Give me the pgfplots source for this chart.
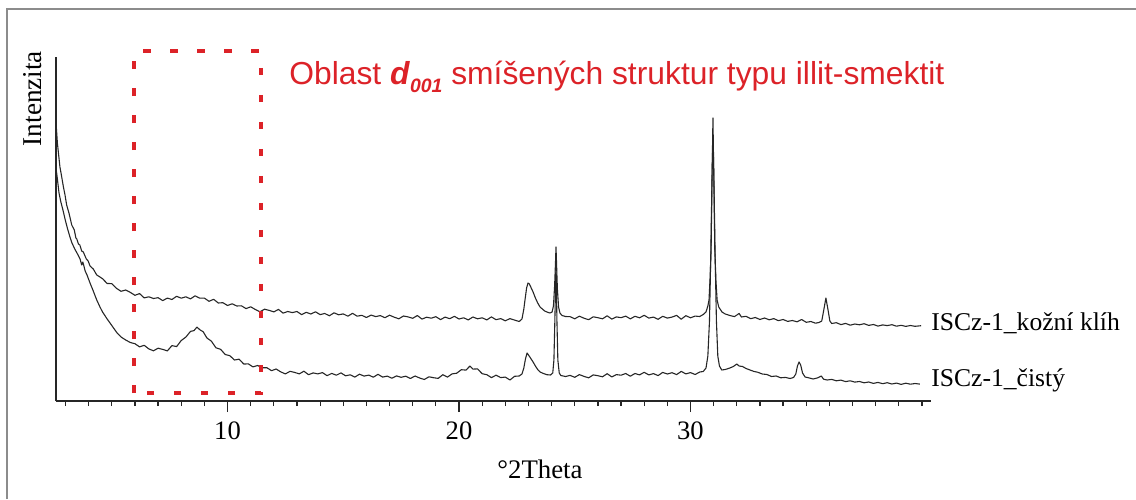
\documentclass[border=0pt]{standalone}
\usepackage{pgfplots}
\pgfplotsset{compat=1.18}
\usepackage{fontspec}
\setmainfont{Liberation Serif}
\newfontfamily\arial{Liberation Sans}
\definecolor{annred}{RGB}{220,34,40}

\begin{document}
\begin{tikzpicture}
  % picture frame: 1136 x 499 px at 0.5pt per px
  \useasboundingbox (0,0) rectangle (568pt,249.5pt);
  \draw[black!45,line width=0.7pt] (3.5pt,0) -- (3.5pt,245pt) -- (568pt,245pt);

  \begin{axis}[
    at={(28pt,49pt)},anchor=south west,
    scale only axis,width=437.5pt,height=172pt,
    xmin=2.59,xmax=40.39,ymin=0,ymax=344,
    axis lines=left,
    axis line style={-,line width=0.6pt,black!85},
    ytick=\empty,
    xtick={10,20,30},
    minor xtick={3,4,...,40},
    tick align=outside,
    major tick length=5.5pt,minor tick length=2.6pt,
    tick style={black!85,line width=0.6pt},
    /pgf/number format/assume math mode=true,
    xticklabel style={font=\fontsize{13.3}{14}\selectfont,yshift=-1.2pt},
    clip=false,
  ]
    % ISCz-1_kozni klih
    \addplot[black!85,line width=0.55pt,line join=round,mark=none] coordinates {
      (2.59,279)(2.65,258)(2.70,247)(2.76,234)(2.83,225)(2.91,214)(2.98,206)(3.05,196)
      (3.15,188)(3.27,176)(3.38,171)(3.45,163)(3.49,162)(3.56,157)(3.62,156)(3.70,150)
      (3.77,149)(3.90,142)(3.98,140)(4.06,135)(4.20,132)(4.35,126)(4.49,124)
      (4.6,122.3)(4.8,117.5)(5.0,117.4)(5.2,112.7)(5.4,109.7)(5.6,111.0)(5.8,108.6)(6.0,105.7)
      (6.2,107.4)(6.4,103.1)(6.6,104.2)(6.8,102.5)(7.0,103.3)(7.2,100.4)(7.4,102.9)(7.6,101.5)
      (7.8,104.7)(8.0,102.8)(8.2,104.2)(8.4,102.1)(8.6,105.2)(8.8,102.8)(9.0,102.9)(9.2,99.7)
      (9.4,101.7)(9.6,98.0)(9.8,98.3)(10.0,95.5)(10.2,97.2)(10.4,95.0)(10.6,95.2)(10.8,92.4)
      (11.0,94.2)(11.2,91.5)(11.4,89.2)(11.6,91.8)(11.8,90.6)(12.0,89.1)(12.2,91.6)(12.4,87.9)
      (12.6,89.5)(12.8,88.4)(13.0,89.5)(13.2,86.4)(13.4,88.7)(13.6,87.0)(13.8,89.2)(14.0,86.4)
      (14.2,87.5)(14.4,85.2)(14.6,88.2)(14.8,86.2)(15.0,87.1)(15.2,84.8)(15.4,87.7)(15.6,84.8)
      (15.8,85.7)(16.0,83.5)(16.2,85.9)(16.4,84.4)(16.6,85.4)(16.8,83.3)(17.0,85.8)(17.2,83.8)
      (17.4,82.2)(17.6,85.0)(17.8,84.1)(18.0,82.7)(18.2,85.5)(18.4,81.9)(18.6,83.8)(18.8,82.8)
      (19.0,84.3)(19.2,81.4)(19.4,83.9)(19.6,82.3)(19.8,84.7)(20.0,82.0)(20.2,83.2)(20.4,81.1)
      (20.6,84.0)(20.8,82.2)(21.0,83.2)(21.2,81.1)(21.4,84.1)(21.6,81.3)(21.8,82.4)(22.0,80.2)
      (22.2,82.4)(22.4,80.9)(22.6,79.5)(22.72,82)(22.80,92)(22.85,101)(22.92,113)(22.98,118)
      (23.04,117)(23.10,114)(23.20,109)(23.30,103)(23.40,98)(23.50,94)(23.60,92)(23.70,90)
      (23.80,89)(23.93,88)(24.02,89)(24.08,95)(24.13,115)(24.17,140)(24.19,154)(24.21,140)
      (24.25,112)(24.30,94)(24.36,88)(24.45,85.5)(24.6,84.5)(24.8,84.3)(25.0,82.2)(25.2,84.8)
      (25.4,82.8)(25.6,81.3)(25.8,84.2)(26.0,83.3)(26.2,82.2)(26.4,85.2)(26.6,81.9)(26.8,84.1)
      (27.0,83.3)(27.2,84.9)(27.4,82.1)(27.6,84.7)(27.8,83.2)(28.0,85.7)(28.2,82.9)(28.4,83.9)
      (28.6,81.7)(28.8,84.7)(29.0,82.9)(29.2,83.9)(29.4,85.6)(29.6,81.8)(29.8,85.3)(30.0,83.2)
      (30.2,84.9)(30.4,84.5)(30.55,86.5)(30.67,89)(30.75,95)(30.80,101)(30.85,125)(30.89,151)
      (30.93,220)(30.97,283)(31.01,220)(31.05,151)(31.10,120)(31.15,101)(31.22,94)(31.36,89)
      (31.5,87)(31.7,85.5)(31.9,84.4)(32.1,87.5)(32.2,84)(32.4,84.7)(32.6,82.3)(32.8,83.5)
      (33.0,81.5)(33.2,83)(33.4,81.2)(33.6,82.4)(33.8,80.3)(34.0,81.5)(34.2,79.6)(34.4,80.5)
      (34.6,79.2)(34.8,81.5)(35.0,78.7)(35.2,79.5)(35.4,77.8)(35.55,78.5)(35.67,80)(35.75,90)
      (35.85,103)(35.95,90)(36.02,80)(36.1,77.5)(36.3,78.3)(36.5,76.4)(36.7,77.6)(36.9,75.8)
      (37.1,77.0)(37.3,76.2)(37.5,77.3)(37.7,75.6)(37.9,76.5)(38.1,74.9)(38.3,76.1)(38.5,75.4)
      (38.7,76.3)(38.9,74.8)(39.1,75.7)(39.3,74.6)(39.5,75.5)(39.7,74.7)(39.96,75.3)
    };
    % ISCz-1_cisty
    \addplot[black!85,line width=0.55pt,line join=round,mark=none] coordinates {
      (2.59,233)(2.65,222)(2.72,208)(2.80,199)(2.89,191)(2.98,182)(3.08,173)(3.18,165)
      (3.28,158)(3.40,152)(3.52,147)(3.63,142)(3.70,136)(3.75,139)(3.85,130)(3.93,126)
      (4.06,118)(4.20,110)(4.35,101)(4.49,94)(4.6,89)(4.8,82)(5.0,75.5)(5.23,68)
      (5.4,64)(5.6,61)(5.8,58.5)(6.0,57.3)(6.2,54.1)(6.4,55.7)(6.6,52.1)(6.8,50.2)
      (7.0,52.8)(7.2,51.6)(7.4,50.1)(7.6,55.4)(7.8,54.4)(8.0,60.5)(8.2,63.9)(8.4,69.6)
      (8.55,70.4)(8.68,73.9)(8.8,71.3)(8.95,69.2)(9.11,63)(9.3,59.9)(9.5,53.2)(9.7,51.7)
      (9.9,46.5)(10.1,45.3)(10.3,41.0)(10.5,41.8)(10.7,37.0)(10.9,37.1)(11.1,34.1)(11.3,35.5)
      (11.5,33.2)(11.7,33.3)(11.9,30.3)(12.1,32.0)(12.3,29.1)(12.5,27.1)(12.7,29.7)(12.9,28.6)
      (13.1,27.1)(13.3,29.8)(13.5,26.3)(13.7,28.1)(13.9,27.1)(14.1,28.4)(14.3,25.3)(14.5,27.6)
      (14.7,25.8)(14.9,28.1)(15.1,25.2)(15.3,26.2)(15.5,23.9)(15.7,26.8)(15.9,24.9)(16.1,25.9)
      (16.3,23.8)(16.5,26.7)(16.7,23.9)(16.9,24.9)(17.1,22.8)(17.3,25.1)(17.5,23.7)(17.7,24.8)
      (17.9,22.5)(18.1,25.0)(18.3,23.0)(18.5,21.5)(18.7,24.2)(18.9,23.3)(19.1,22.6)(19.3,26.3)
      (19.5,23.9)(19.7,27.1)(19.9,27.8)(20.1,31.3)(20.3,30.9)(20.47,34.9)(20.6,31.9)(20.8,32.1)
      (21.0,27.3)(21.2,26.3)(21.4,23.4)(21.6,25.8)(21.8,23.4)(22.0,23.9)(22.2,21.0)(22.4,24.7)
      (22.6,25)(22.72,27)(22.80,33)(22.87,42)(22.94,48)(23.0,46)(23.06,44)(23.13,41.5)
      (23.2,39)(23.3,35)(23.4,31.5)(23.5,29)(23.65,27.5)(23.8,26.3)(23.95,26)(24.05,28)
      (24.10,41)(24.14,80)(24.19,139)(24.23,80)(24.27,41)(24.33,28)(24.4,25.5)(24.6,24.5)
      (24.8,25.6)(25.0,23.7)(25.2,26.4)(25.4,24.6)(25.6,23.2)(25.8,26.1)(26.0,25.3)(26.2,24.2)
      (26.4,27.3)(26.6,24.1)(26.8,26.4)(27.0,25.8)(27.2,27.5)(27.4,24.8)(27.6,27.5)(27.8,26.1)
      (28.0,28.7)(28.2,26.1)(28.4,27.4)(28.6,25.4)(28.8,28.6)(29.0,27.0)(29.2,28.3)(29.4,26.4)
      (29.6,29.6)(29.8,27.1)(30.0,28.4)(30.2,26.5)(30.4,29.0)(30.55,29.5)(30.67,33)(30.75,45)
      (30.82,80)(30.88,150)(30.93,225)(30.97,266)(31.01,225)(31.06,150)(31.12,80)(31.18,45)
      (31.25,35)(31.35,31)(31.5,31.5)(31.7,33)(31.85,34.5)(32.0,37)(32.1,35)(32.25,34.5)
      (32.4,32.5)(32.57,31)(32.75,29.5)(32.9,28.8)(33.1,27)(33.3,26.5)(33.5,24.5)(33.7,25)
      (33.9,23.2)(34.1,23.6)(34.3,22.5)(34.45,23.5)(34.55,27)(34.62,35)(34.69,39)(34.76,36)
      (34.84,28)(34.95,24)(35.1,23.2)(35.3,22.0)(35.5,23.2)(35.65,25)(35.75,21.8)(35.9,21)
      (36.1,21.6)(36.3,20.2)(36.5,20.9)(36.7,19.4)(36.9,20.2)(37.1,18.9)(37.3,19.5)(37.5,18.2)
      (37.7,19.0)(37.9,17.6)(38.1,18.6)(38.3,17.3)(38.5,18.3)(38.7,17.0)(38.9,17.9)(39.1,16.6)
      (39.3,17.8)(39.5,16.8)(39.7,17.5)(39.91,16.9)
    };
    % d001 region
    \draw[annred,line width=2pt,dash pattern=on 3.8pt off 9.7pt]
      (axis cs:5.96,8) rectangle (axis cs:11.45,350);
  \end{axis}

  % texts
  \node[anchor=base,rotate=90,font=\fontsize{13.6}{15}\selectfont,inner sep=0pt]
    at (20.5pt,200.2pt) {Intenzita};
  \node[anchor=base,font=\fontsize{13.4}{15}\selectfont,inner sep=0pt]
    at (270pt,10.5pt) {°2Theta};
  \node[anchor=base west,font=\fontsize{12.8}{14}\selectfont,inner sep=0pt]
    at (465.5pt,84.5pt) {ISCz-1\_kožní klíh};
  \node[anchor=base west,font=\fontsize{12.8}{14}\selectfont,inner sep=0pt]
    at (465.5pt,56.2pt) {ISCz-1\_čistý};
  \node[anchor=base west,text=annred,font=\arial\fontsize{15.9}{17}\selectfont,inner sep=0pt]
    at (144.5pt,207pt)
    {Oblast \textbf{\textit{d}}\raisebox{-0.45ex}{\fontsize{9.7}{10}\selectfont\bfseries\itshape 001} smíšených struktur typu illit-smektit};
\end{tikzpicture}
\end{document}
